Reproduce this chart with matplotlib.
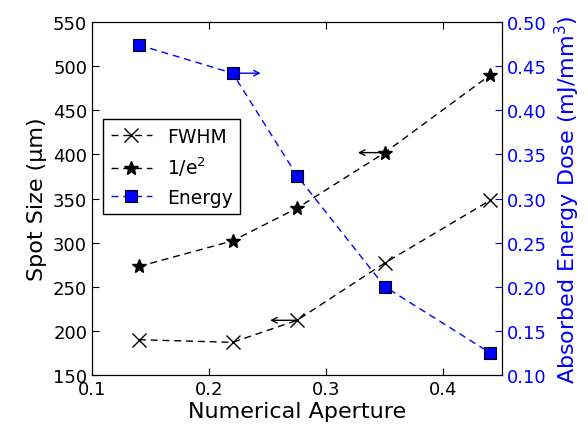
import matplotlib
matplotlib.use('Agg')
import matplotlib.pyplot as plt

# values
na = [0.14, 0.22, 0.275, 0.35, 0.44]
fwhm = [190, 187, 212, 277, 348]
inv_e2 = [273, 302, 339, 402, 490]
energy = [0.474, 0.442, 0.326, 0.200, 0.125]

plt.rcParams['font.family'] = 'DejaVu Sans'
plt.rcParams['lines.dashed_pattern'] = (5, 3.5)

fig = plt.figure(figsize=(5.88, 4.31), dpi=100)
ax = fig.add_axes([0.1565, 0.1276, 0.6972, 0.8190])
ax2 = ax.twinx()

l1, = ax.plot(na, fwhm, 'k--', marker='x', markersize=10, markeredgewidth=1.0,
              linewidth=1.0, label='FWHM')
l2, = ax.plot(na, inv_e2, 'k--', marker='*', markersize=10,
              linewidth=1.0, label='1/e$^2$')
l3, = ax2.plot(na, energy, 'b--', marker='s', markersize=8, markerfacecolor='b',
               markeredgecolor='k', markeredgewidth=0.8, linewidth=1.0, label='Energy')

# arrows pointing to the axis each curve belongs to
ax.annotate('', xy=(0.252, fwhm[2]), xytext=(na[2], fwhm[2]),
            arrowprops=dict(arrowstyle='->', color='k', lw=1.0, shrinkA=0, shrinkB=0))
ax.annotate('', xy=(0.327, inv_e2[3]), xytext=(na[3], inv_e2[3]),
            arrowprops=dict(arrowstyle='->', color='k', lw=1.0, shrinkA=0, shrinkB=0))
ax2.annotate('', xy=(0.244, energy[1]), xytext=(na[1], energy[1]),
             arrowprops=dict(arrowstyle='->', color='b', lw=1.0, shrinkA=0, shrinkB=0))

ax.set_xlim(0.1, 0.45)
ax.set_ylim(150, 550)
ax2.set_ylim(0.1, 0.5)
ax.set_xticks([0.1, 0.2, 0.3, 0.4])
ax.set_yticks(range(150, 551, 50))
ax2.set_yticks([0.10, 0.15, 0.20, 0.25, 0.30, 0.35, 0.40, 0.45, 0.50])
ax2.set_yticklabels(['%.2f' % v for v in ax2.get_yticks()])

ax.tick_params(direction='in', top=True, right=False, labelsize=13, length=5)
ax2.tick_params(direction='in', colors='b', labelsize=13, length=5)
ax2.spines['right'].set_color('k')

ax.set_xlabel('Numerical Aperture', fontsize=16, labelpad=2)
ax.set_ylabel('Spot Size (μm)', fontsize=16)
ax2.set_ylabel('Absorbed Energy Dose (mJ/mm$^3$)', fontsize=16, color='b')

leg = ax.legend(handles=[l1, l2, l3], loc='upper left', bbox_to_anchor=(0.027, 0.725),
                fontsize=13.5, numpoints=1, fancybox=False, framealpha=1,
                edgecolor='k', borderaxespad=0, handlelength=2.2)
leg.get_frame().set_linewidth(1.0)

fig.savefig('out.png', dpi=100)
